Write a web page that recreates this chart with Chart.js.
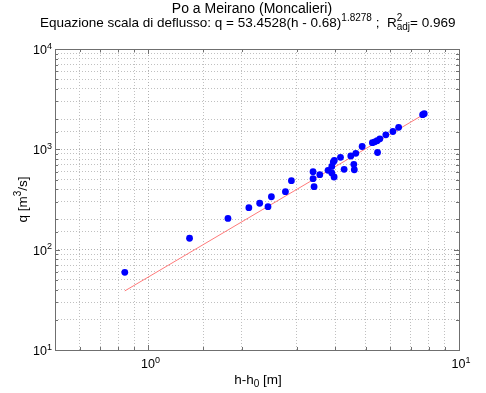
<!DOCTYPE html>
<html>
<head>
<meta charset="utf-8">
<script src="https://cdn.jsdelivr.net/npm/chart.js@4"></script>
<style>
  body { margin: 0; background: #fff; }
  #wrap { width: 486px; height: 393px; }
</style>
</head>
<body>
<div id="wrap"><canvas id="scalaChart" width="486" height="393"></canvas></div>
<script>
// h - h0 [m] and q [m3/s]
const hVals = [0.839, 1.356, 1.803, 2.105, 2.281, 2.426, 2.488, 2.761, 2.886, 3.388,
  3.388, 3.414, 3.562, 3.787, 3.894, 3.937, 3.967, 3.894, 3.961, 4.153,
  4.266, 4.483, 4.584, 4.601, 4.653, 4.876, 5.26, 5.358, 5.451, 5.561,
  5.466, 5.813, 6.126, 6.391, 7.636, 7.728];
const qVals = [59.5, 130, 205, 262, 290, 268, 337, 378, 487, 599,
  510, 424, 559, 618, 675, 748, 774, 581, 530, 833,
  632, 858, 709, 626, 913, 1067, 1165, 1189, 1220, 1274,
  930, 1396, 1506, 1659, 2215, 2266];

// ends of the fitted curve as drawn
const fitH = [0.839, 7.73];
const fitQ = [38.8, 2245];

const xTickVals = [1, 10];
const xTickExp = ["0", "1"];
const yTickVals = [10, 100, 1000, 10000];
const yTickExp = ["1", "2", "3", "4"];

const FONT = "'Liberation Sans', Arial, Helvetica, sans-serif";

// text with sup/sub parts: each part is [text, kind] with kind 0 normal, 1 sup, 2 sub
function partFont(size, kind) {
  return (kind ? Math.round(size * 0.72) : size) + "px " + FONT;
}
function richWidth(ctx, parts, size) {
  let w = 0;
  parts.forEach(p => { ctx.font = partFont(size, p[1]); w += ctx.measureText(p[0]).width; });
  return w;
}
function drawRich(ctx, parts, x, y, size, align) {
  const w = richWidth(ctx, parts, size);
  let cx = align === "center" ? x - w / 2 : align === "right" ? x - w : x;
  ctx.textAlign = "left";
  ctx.textBaseline = "alphabetic";
  parts.forEach(p => {
    ctx.font = partFont(size, p[1]);
    let dy = 0;
    if (p[1] === 1) dy = -size * 0.42;
    if (p[1] === 2) dy = size * 0.25;
    ctx.fillText(p[0], cx, y + dy);
    cx += ctx.measureText(p[0]).width;
  });
}

const textPlugin = {
  id: "textPlugin",
  afterDraw(chart) {
    const ctx = chart.ctx;
    const area = chart.chartArea;
    const xs = chart.scales.x;
    const ys = chart.scales.y;
    ctx.save();

    // box
    ctx.strokeStyle = "#6f6f6f";
    ctx.lineWidth = 1;
    ctx.strokeRect(Math.round(area.left) + 0.5, Math.round(area.top) + 0.5,
      Math.round(area.right - area.left), Math.round(area.bottom - area.top));

    // tick marks inside the box
    ctx.beginPath();
    xs.ticks.forEach(t => {
      const px = Math.round(xs.getPixelForValue(t.value)) + 0.5;
      const len = Math.abs(Math.log10(t.value) % 1) < 1e-9 ? 5 : 3;
      ctx.moveTo(px, area.bottom); ctx.lineTo(px, area.bottom - len);
      ctx.moveTo(px, area.top); ctx.lineTo(px, area.top + len);
    });
    ys.ticks.forEach(t => {
      const py = Math.round(ys.getPixelForValue(t.value)) + 0.5;
      const len = Math.abs(Math.log10(t.value) % 1) < 1e-9 ? 5 : 3;
      ctx.moveTo(area.left, py); ctx.lineTo(area.left + len, py);
      ctx.moveTo(area.right, py); ctx.lineTo(area.right - len, py);
    });
    ctx.stroke();

    ctx.fillStyle = "#000";
    // tick labels
    xTickVals.forEach((v, i) => {
      drawRich(ctx, [["10", 0], [xTickExp[i], 1]], xs.getPixelForValue(v) + 2, area.bottom + 18, 12.5, "center");
    });
    yTickVals.forEach((v, i) => {
      drawRich(ctx, [["10", 0], [yTickExp[i], 1]], area.left - 3, ys.getPixelForValue(v) + 5, 12.5, "right");
    });

    // titles
    drawRich(ctx, [["Po a Meirano (Moncalieri)", 0]], 252, 13, 14, "center");
    const head = [["Equazione scala di deflusso: q = 53.4528(h - 0.68)", 0], ["1.8278", 1], [" ;  R", 0]];
    const ts = 13.5;
    drawRich(ctx, head, 40, 27, ts, "left");
    const base = 40 + richWidth(ctx, head, ts);
    ctx.font = partFont(ts, 1);
    ctx.fillText("2", base, 27 - ts * 0.42);
    drawRich(ctx, [["adj", 2]], base, 27, ts, "left");
    const wAdj = richWidth(ctx, [["adj", 2]], ts);
    drawRich(ctx, [["= 0.969", 0]], base + wAdj, 27, ts, "left");

    // axis titles
    drawRich(ctx, [["h-h", 0], ["0", 2], [" [m]", 0]], 258, 384, 13.5, "center");
    ctx.save();
    ctx.translate(27, (area.top + area.bottom) / 2);
    ctx.rotate(-Math.PI / 2);
    drawRich(ctx, [["q [m", 0], ["3", 1], ["/s]", 0]], 0, 0, 13.5, "center");
    ctx.restore();

    ctx.restore();
  }
};

function gridColor(c) {
  const v = c.tick && c.tick.value;
  return v && Math.abs(Math.log10(v) % 1) < 1e-9 ? "#b0b0b0" : "#c0c0c0";
}

const scatterPts = hVals.map((h, i) => ({ x: h, y: qVals[i] }));
const fitPts = fitH.map((h, i) => ({ x: h, y: fitQ[i] }));

new Chart(document.getElementById("scalaChart").getContext("2d"), {
  type: "scatter",
  data: {
    datasets: [
      {
        label: "misure",
        data: scatterPts,
        pointRadius: 3.4,
        pointBackgroundColor: "#0000ff",
        pointBorderColor: "#0000ff",
        pointBorderWidth: 0,
        showLine: false
      },
      {
        label: "scala di deflusso",
        data: fitPts,
        showLine: true,
        pointRadius: 0,
        borderColor: "#ff7a7a",
        borderWidth: 1
      }
    ]
  },
  options: {
    responsive: false,
    animation: false,
    devicePixelRatio: 1,
    layout: { padding: { left: 55, right: 27, top: 49, bottom: 43 } },
    plugins: { legend: { display: false }, tooltip: { enabled: false }, title: { display: false } },
    scales: {
      x: {
        type: "logarithmic",
        min: 0.5,
        max: 10,
        ticks: { display: false },
        grid: { color: gridColor, drawTicks: false, lineWidth: 1 },
        border: { display: false, dash: [1, 2] }
      },
      y: {
        type: "logarithmic",
        min: 10,
        max: 10000,
        ticks: { display: false },
        grid: { color: gridColor, drawTicks: false, lineWidth: 1 },
        border: { display: false, dash: [1, 2] }
      }
    }
  },
  plugins: [textPlugin]
});
</script>
</body>
</html>
